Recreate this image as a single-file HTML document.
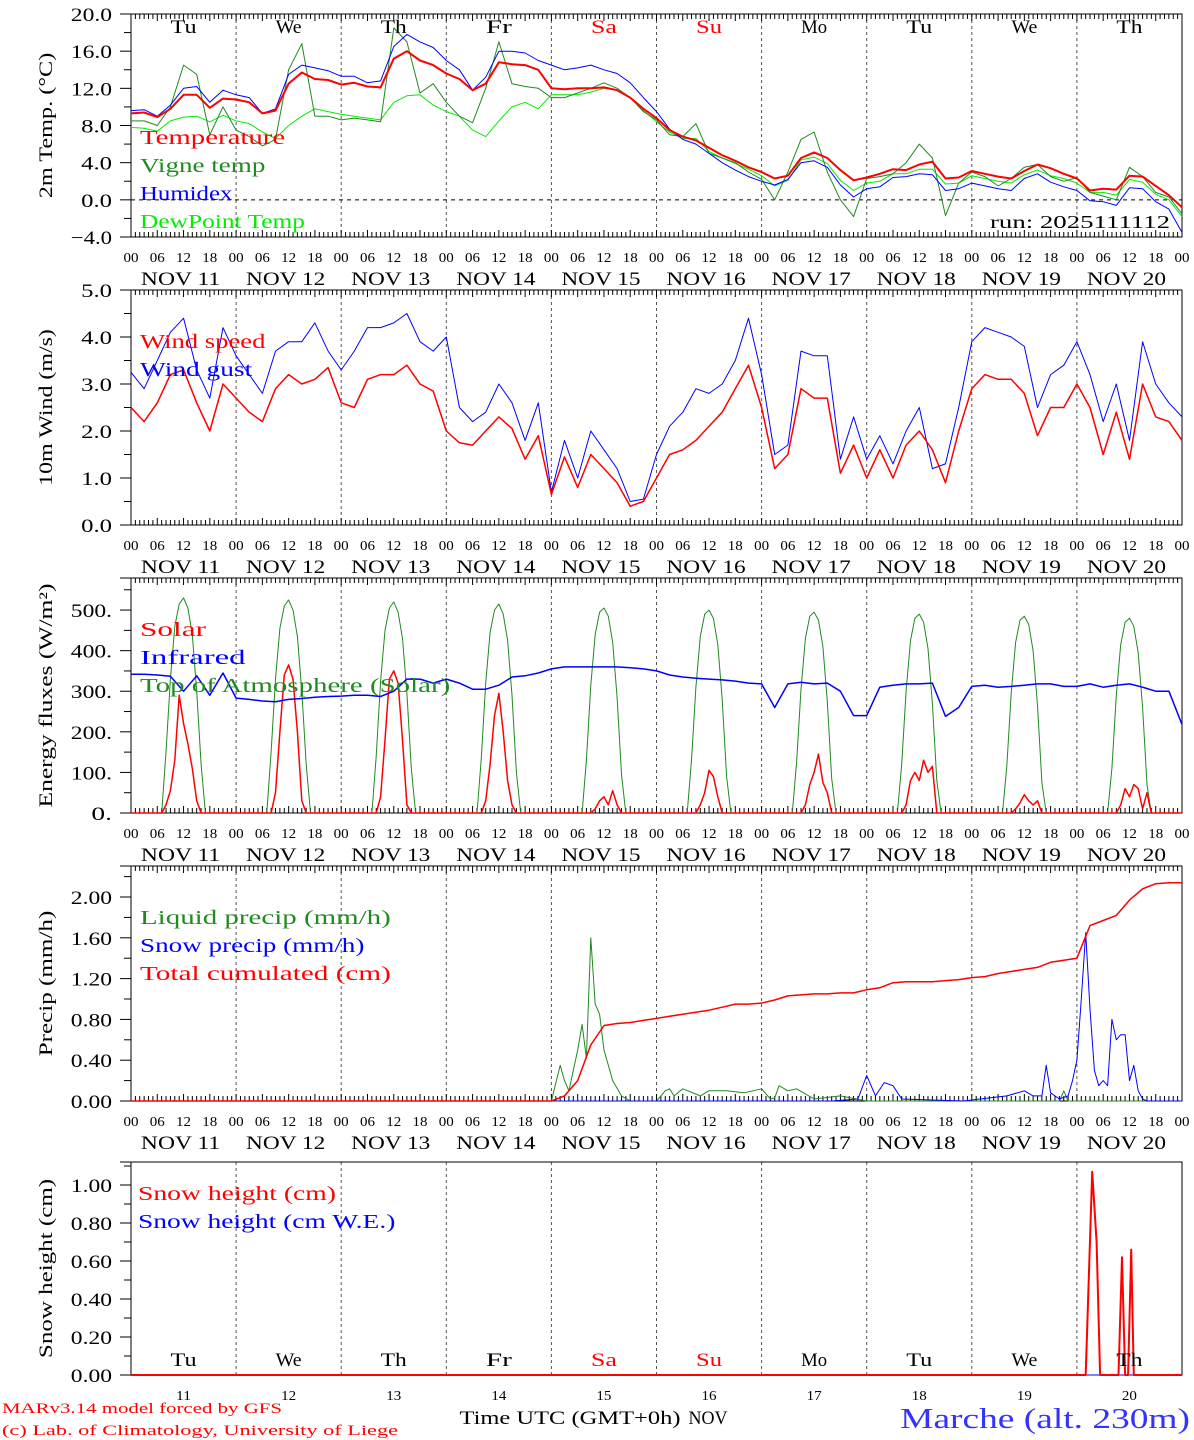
<!DOCTYPE html>
<html><head><meta charset="utf-8"><style>
html,body{margin:0;padding:0;background:#fff}
svg{display:block;font-family:"Liberation Serif","DejaVu Serif",serif}
</style></head><body>
<svg id="chart" width="1194" height="1440" viewBox="0 0 1194 1440" xmlns="http://www.w3.org/2000/svg"></svg>
<script>
// ---------- DATA ----------
const dayNames = ["Tu","We","Th","Fr","Sa","Su","Mo","Tu","We","Th"];
const dayNums = ["11","12","13","14","15","16","17","18","19","20"];
const hourLabels = ["00","06","12","18"];
// 3-hourly series (81 values, t = i*3 h)
const tempVals = [9.3,9.4,8.9,9.8,11.3,11.3,9.9,10.9, 10.8,10.5,9.3,9.6,12.5,13.7,13.0,12.9, 12.4,12.6,12.2,12.1,15.2,16.0,15.0,14.5, 13.6,13.0,11.8,12.5,14.8,14.6,14.5,14.0, 12.0,11.9,12.0,12.0,12.1,11.8,11.0,9.8, 8.8,7.5,6.8,6.4,5.6,4.8,4.2,3.5, 3.0,2.3,2.6,4.5,5.1,4.5,3.2,2.1, 2.4,2.8,3.3,3.2,3.8,4.1,2.3,2.4, 3.1,2.8,2.5,2.3,3.1,3.8,3.4,2.8, 2.3,1.0,1.2,1.1,2.6,2.5,1.5,0.5,-0.8];
const humidexVals = [9.6,9.7,9.0,10.2,12.0,12.2,10.5,11.8, 11.3,11.0,9.3,9.8,13.5,14.5,14.2,13.9, 13.3,13.3,12.6,12.8,16.5,17.8,17.0,16.4, 15.0,14.0,11.8,13.2,16.0,16.0,15.8,15.0, 14.5,14.0,14.2,14.5,14.0,13.6,12.6,11.0, 9.5,7.6,6.5,6.0,5.0,4.0,3.2,2.5, 2.0,1.6,2.2,4.0,4.2,3.5,1.6,0.3, 1.2,1.4,2.4,2.5,2.8,2.7,1.0,1.2, 1.8,1.5,1.2,1.0,2.3,2.8,1.9,1.4, 1.0,-0.1,-0.2,-0.6,1.3,1.2,-0.2,-1.0,-3.5];
const vigneVals = [8.5,8.5,8.0,10.0,14.5,13.5,7.0,10.0, 7.5,6.8,5.8,6.5,14.0,16.8,9.0,9.0, 8.6,8.8,8.6,8.4,18.5,17.0,11.5,12.5, 10.5,9.0,8.3,12.0,17.0,12.5,12.2,12.0, 11.0,11.0,11.5,12.0,12.6,12.0,11.0,9.5, 8.6,7.0,6.8,8.2,5.0,4.5,4.0,3.0, 2.2,0.0,3.0,6.5,7.3,3.0,0.0,-1.8, 2.3,2.5,2.8,4.0,6.0,4.5,-1.7,1.8, 3.0,2.5,1.5,2.3,3.5,3.8,2.5,2.0, 2.4,0.8,0.4,0.0,3.5,2.5,0.8,0.3,-1.5];
const dewVals = [7.8,7.7,7.4,8.5,8.9,9.0,8.4,9.1, 8.5,8.2,7.3,6.6,8.0,9.0,9.8,9.5, 9.2,9.0,8.8,8.6,10.5,11.2,11.3,10.2, 9.5,9.0,7.5,6.8,8.5,10.0,10.5,9.8, 11.3,11.3,11.3,11.6,12.0,11.8,11.0,9.6, 8.4,7.3,6.6,6.6,5.2,4.5,3.9,3.3, 2.6,1.5,2.1,4.3,4.6,3.9,2.1,1.0, 1.8,2.0,2.8,2.8,3.3,3.3,1.7,1.8, 2.6,2.3,2.0,1.8,2.7,3.2,2.6,2.3, 1.8,0.8,0.8,0.5,2.2,1.9,0.6,0.0,-1.8];
const windVals = [2.5,2.2,2.6,3.2,3.3,2.6,2.0,3.0, 2.7,2.4,2.2,2.9,3.2,3.0,3.1,3.35, 2.6,2.5,3.1,3.2,3.2,3.4,3.0,2.85, 2.0,1.75,1.7,2.0,2.3,2.05,1.4,1.9, 0.65,1.45,0.8,1.5,1.2,0.9,0.4,0.5, 1.0,1.5,1.6,1.8,2.1,2.4,2.9,3.4, 2.5,1.2,1.5,2.9,2.7,2.7,1.1,1.7, 1.0,1.6,1.0,1.7,2.0,1.6,0.9,2.0, 2.9,3.2,3.1,3.1,2.8,1.9,2.5,2.5, 3.0,2.5,1.5,2.4,1.4,3.0,2.3,2.2,1.8];
const gustVals = [3.25,2.9,3.5,4.1,4.4,3.3,2.7,4.2, 3.6,3.2,2.8,3.7,3.9,3.9,4.3,3.7, 3.3,3.7,4.2,4.2,4.3,4.5,3.9,3.7, 4.0,2.5,2.2,2.4,3.0,2.6,1.8,2.6, 0.7,1.8,1.0,2.0,1.6,1.2,0.5,0.55, 1.5,2.1,2.4,2.9,2.8,3.0,3.5,4.4, 3.2,1.5,1.7,3.7,3.6,3.6,1.4,2.3, 1.4,1.9,1.3,2.0,2.5,1.2,1.3,2.5, 3.9,4.2,4.1,4.0,3.8,2.5,3.2,3.4, 3.9,3.2,2.2,3.0,1.8,3.9,3.0,2.6,2.3];
const infraredVals = [342,342,340,337,300,338,290,345, 283,280,276,274,280,282,285,287, 288,290,290,287,300,330,330,320, 330,320,305,305,315,335,338,345, 355,360,360,360,360,360,358,355, 350,340,335,332,330,328,325,320, 318,260,318,322,318,320,300,240, 240,310,315,318,318,320,238,260, 312,315,310,312,315,318,318,312, 312,318,310,315,318,310,300,300,218];
const cumulVals = [0,0,0,0,0,0,0,0, 0,0,0,0,0,0,0,0, 0,0,0,0,0,0,0,0, 0,0,0,0,0,0,0,0, 0,0.05,0.2,0.55,0.74,0.76,0.77,0.79, 0.81,0.83,0.85,0.87,0.89,0.92,0.95,0.95, 0.96,0.99,1.03,1.04,1.05,1.05,1.06,1.06, 1.09,1.11,1.16,1.17,1.17,1.17,1.18,1.19, 1.21,1.22,1.25,1.27,1.29,1.31,1.36,1.38, 1.40,1.72,1.77,1.82,1.97,2.08,2.13,2.14,2.14];
// daylight hourly fluxes, hours 07..17 of each day
const toaVals = [
[0,150,330,460,515,530,505,440,300,120,0],[0,150,330,455,510,525,500,435,300,120,0],
[0,140,325,450,505,520,495,430,295,110,0],[0,135,320,445,500,515,490,425,290,100,0],
[0,130,315,440,495,505,485,420,285,95,0],[0,130,310,435,490,500,480,415,280,90,0],
[0,125,305,430,485,495,475,410,275,85,0],[0,120,300,425,480,490,470,405,270,80,0],
[0,115,295,420,475,485,465,400,265,75,0],[0,110,290,415,470,480,460,395,260,70,0]];
const solarVals = [
[0,20,55,130,290,220,170,110,30,0,0],[0,0,50,200,340,365,330,200,30,0,0],
[0,0,40,180,330,350,320,180,20,0,0],[0,0,30,120,240,295,200,80,20,0,0],
[0,0,0,10,30,40,20,55,20,0,0],[0,0,0,20,50,105,90,40,0,0,0],
[0,0,0,20,70,100,145,75,50,0,0],[0,0,20,80,100,80,130,100,115,0,0],
[0,0,0,10,25,45,30,20,30,0,0],[0,0,0,20,60,40,70,60,10,50,0]];
const liquidT = [0,96,98,99,100,102,103,104,105,106,107,108,110,112,114,120,122,123,124,126,130,132,136,140,142,144,146,147,148,150,152,156,162,168,180,190,212,213,214,240];
const liquidVals = [0,0,0.35,0.2,0.1,0.5,0.75,0.42,1.6,0.95,0.85,0.5,0.2,0.05,0,0,0.1,0.12,0.05,0.12,0.05,0.1,0.1,0.08,0.1,0.12,0.02,0.03,0.15,0.1,0.12,0.02,0.05,0,0,0,0,0.1,0,0];
const snowPT = [0,160,166,168,170,172,174,176,190,200,204,206,208,209,210,212,214,215,216,217,218,219,220,221,222,223,224,225,226,227,228,229,230,231,232,240];
const snowPVals = [0,0,0.02,0.25,0.05,0.18,0.15,0.02,0,0.05,0.1,0.05,0.05,0.35,0.08,0.02,0.05,0.2,0.4,1.0,1.65,0.9,0.3,0.15,0.2,0.15,0.8,0.6,0.65,0.65,0.2,0.35,0.1,0.02,0,0];
const snowHT = [0,218,219.5,220.5,221.3,225.5,226.3,227,227.7,228.4,229,240];
const snowHVals = [0,0,1.07,0.7,0,0,0.62,0,0,0.66,0,0];

// ---------- RENDER ----------
const NS="http://www.w3.org/2000/svg";
const svg=document.getElementById('chart');
const X0=131,X1=1182;
function x(t){return X0+t*(X1-X0)/240;}
function mk(tag,attrs,parent){const e=document.createElementNS(NS,tag);for(const k in attrs)e.setAttribute(k,attrs[k]);(parent||svg).appendChild(e);return e;}
function txt(s,xx,yy,size,fill,anchor,parent,cw,sw){const a={x:xx,y:yy,'font-size':size,fill:fill,'text-anchor':anchor||'start'};if(cw){const sp=(s.match(/ /g)||[]).length;const w=(s.length-sp)*cw+sp*cw*(sw===undefined?1:sw);a.textLength=w.toFixed(1);a.lengthAdjust='spacingAndGlyphs';}const e=mk('text',a,parent);e.textContent=s;return e;}

const panels=[
 {name:'temperature',top:14,bot:237,vmin:-4,vmax:20,step:4,minor:2,title:'2m Temp. (°C)',fmt:v=>v.toFixed(1).replace('-','−')},
 {name:'wind',top:290,bot:525,vmin:0,vmax:5,step:1,minor:0.5,title:'10m Wind (m/s)',fmt:v=>v.toFixed(1)},
 {name:'flux',top:578,bot:813,vmin:0,vmax:579,step:100,minor:50,title:'Energy fluxes (W/m²)',fmt:v=>v.toFixed(0)+'.',tmax:500},
 {name:'precip',top:866,bot:1101,vmin:0,vmax:2.304,step:0.4,minor:0.2,title:'Precip (mm/h)',fmt:v=>v.toFixed(2),tmax:2.0},
 {name:'snow',top:1162,bot:1375,vmin:0,vmax:1.121,step:0.2,minor:0.1,title:'Snow height (cm)',fmt:v=>v.toFixed(2),tmax:1.0}
];
panels.forEach(p=>{p.y=v=>p.bot-(v-p.vmin)*(p.bot-p.top)/(p.vmax-p.vmin);});

panels.forEach((p,pi)=>{
 const g=mk('g',{});
 
 
 for(let d=1;d<10;d++){
  const l=mk('line',{x1:x(d*24),x2:x(d*24),y1:p.top,y2:p.bot,stroke:'#555','stroke-width':1,'stroke-dasharray':'3,3'},g);
  
  
 }
 const fr=mk('rect',{x:X0,y:p.top,width:X1-X0,height:p.bot-p.top,fill:'none',stroke:'#000','stroke-width':1},g);
 
 
 mk('line',{x1:120,x2:X0,y1:p.top,y2:p.top,stroke:'#000'},g);
 mk('line',{x1:120,x2:X0,y1:p.bot,y2:p.bot,stroke:'#000'},g);
 if(pi<4){
  for(let h=0;h<=240;h++){
   const len=(h%6===0)?7:5;
   mk('line',{x1:x(h),x2:x(h),y1:p.top,y2:p.top+len,stroke:'#000','stroke-width':1},g);
   mk('line',{x1:x(h),x2:x(h),y1:p.bot,y2:p.bot-len,stroke:'#000','stroke-width':1},g);
  }
  for(let d=0;d<10;d++){
   for(let k=0;k<4;k++){
    const lb=txt(hourLabels[k],x(d*24+k*6),p.bot+25,14,'#000','middle',g,7.5);
    
    
   }
   const nl=txt('NOV 11'.replace('11',dayNums[d]),x(d*24+12)-3,p.bot+48,19,'#000','middle',g,13.2);
   
   
  }
  const end=txt('00',x(240),p.bot+25,14,'#000','middle',g,7.5);
  
  
 }
 const tmax=p.tmax!==undefined?p.tmax:p.vmax;
 for(let v=p.vmin;v<=p.vmax+1e-6;v+=p.minor){
  const vv=Math.round(v*1000)/1000;
  const major=Math.abs(Math.round(vv/p.step)*p.step-vv)<1e-6;
  mk('line',{x1:major?120:124,x2:X0,y1:p.y(vv),y2:p.y(vv),stroke:'#000'},g);
  if(major&&vv<=tmax+1e-6){
   const tl=txt(p.fmt(vv),112,p.y(vv)+7,19,'#000','end',g,10.3);
   
   
  }
 }
 const cy=(p.top+p.bot)/2;
 const yt=txt(p.title,52,cy,19,'#000','middle',g,11.2);
 yt.setAttribute('transform','rotate(-90 52 '+cy+')');
 
 
});

function series(p,times,vals,color,w,name){
 const pts=vals.map((v,i)=>x(times[i]).toFixed(1)+','+p.y(v).toFixed(1)).join(' ');
 const l=mk('polyline',{points:pts,fill:'none',stroke:color,'stroke-width':w,'stroke-linejoin':'round'});
 
 
 return l;
}
const t3=tempVals.map((_,i)=>i*3);
const P=panels;
const zl=mk('line',{x1:X0,x2:X1,y1:P[0].y(0),y2:P[0].y(0),stroke:'#000','stroke-dasharray':'4,4'});


series(P[0],t3,dewVals,'#00ee00',1,'dewpoint-line');
series(P[0],t3,vigneVals,'#1f8a1f',1,'vigne-temp-line');
series(P[0],t3,humidexVals,'#0000ff',1,'humidex-line');
series(P[0],t3,tempVals,'#ff0000',2,'temperature-line');
series(P[1],t3,gustVals,'#0000ff',1,'wind-gust-line');
series(P[1],t3,windVals,'#ff0000',1.5,'wind-speed-line');
function dayFlux(arr){const T=[],V=[];T.push(0);V.push(0);arr.forEach((day,d)=>{day.forEach((v,k)=>{T.push(d*24+7+k);V.push(v);});});T.push(240);V.push(0);return [T,V];}
const toa=dayFlux(toaVals), sol=dayFlux(solarVals);
series(P[2],toa[0],toa[1],'#1f8a1f',1,'toa-solar-line');
series(P[2],sol[0],sol[1],'#ff0000',1.5,'solar-line');
series(P[2],t3,infraredVals,'#0000ff',1.5,'infrared-line');
series(P[3],liquidT,liquidVals,'#1f8a1f',1,'liquid-precip-line');
series(P[3],snowPT,snowPVals,'#0000ff',1,'snow-precip-line');
series(P[3],t3,cumulVals,'#ff0000',1.5,'total-cumulated-line');
series(P[4],snowHT,snowHVals.map(()=>0),'#0000ff',1,'snow-we-line');
series(P[4],snowHT,snowHVals,'#ff0000',2,'snow-height-line');

function legend(items,yy,xx){items.forEach((it,i)=>{const t=txt(it[0],xx||140,yy+i*28,20,it[1],'start',null,13.2,0.5);});}
legend([['Temperature','#ff0000'],['Vigne temp','#1f8a1f'],['Humidex','#0000ff'],['DewPoint Temp','#00ee00']],144);
legend([['Wind speed','#ff0000'],['Wind gust','#0000ff']],348);
legend([['Solar','#ff0000'],['Infrared','#0000ff'],['Top of Atmosphere (Solar)','#1f8a1f']],636);
legend([['Liquid precip (mm/h)','#1f8a1f'],['Snow precip (mm/h)','#0000ff'],['Total cumulated (cm)','#ff0000']],924);
legend([['Snow height (cm)','#ff0000'],['Snow height (cm W.E.)','#0000ff']],1200,138);

dayNames.forEach((n,d)=>{
 const c=(d===4||d===5)?'#ff0000':'#000';
 const a=txt(n,x(d*24+12),33,19,c,'middle',null,13);
 
 
 const b=txt(n,x(d*24+12),1366,19,c,'middle',null,13);
 
 
 const nn=txt(dayNums[d],x(d*24+12),1400,14,'#000','middle',null,7.5);
 
 
});
const run=txt('run: 2025111112',1170,228,18,'#000','end',null,12);


const xt=txt('Time UTC (GMT+0h)',570,1424,19,'#000','middle',null,13);


const nv=txt('NOV',708,1424,19,'#000','middle',null,13);


const f1=txt('MARv3.14 model forced by GFS',2,1413,15,'#ff0000','start',null,10);


const f2=txt('(c) Lab. of Climatology, University of Liege',2,1435,15,'#ff0000','start',null,9.0);


const st=txt('Marche (alt. 230m)',1190,1428,28,'#3333ff','end',null,16.1);


</script>
</body></html>
